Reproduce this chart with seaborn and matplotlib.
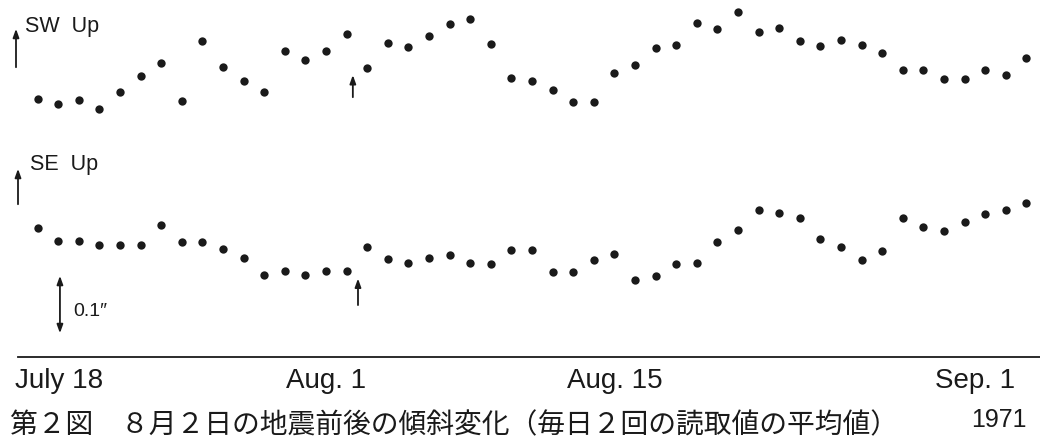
"""
Tilt change before and after the Aug. 2 earthquake (1971),
daily means of two readings, SW and SE components.
"""

import numpy as np
import pandas as pd
import seaborn as sns
import matplotlib.pyplot as plt
from matplotlib.transforms import ScaledTranslation

# daily tilt, arcsec (relative), July 18 .. Sep 4 1971
sw_up = [0.018, 0.010, 0.016, 0.002, 0.029, 0.054, 0.075, 0.015, 0.109, 0.068,
         0.046, 0.028, 0.093, 0.079, 0.093, 0.120, 0.066, 0.107, 0.100, 0.118,
         0.137, 0.145, 0.105, 0.051, 0.046, 0.032, 0.012, 0.012, 0.059, 0.072,
         0.099, 0.104, 0.138, 0.128, 0.156, 0.124, 0.130, 0.110, 0.102, 0.111,
         0.104, 0.091, 0.064, 0.064, 0.050, 0.049, 0.063, 0.055, 0.083]
se_up = [0.091, 0.070, 0.070, 0.063, 0.064, 0.064, 0.096, 0.069, 0.069, 0.057,
         0.043, 0.016, 0.022, 0.016, 0.023, 0.023, 0.061, 0.042, 0.035, 0.043,
         0.048, 0.035, 0.033, 0.056, 0.056, 0.021, 0.021, 0.040, 0.050, 0.008,
         0.014, 0.033, 0.035, 0.068, 0.087, 0.120, 0.114, 0.106, 0.073, 0.060,
         0.040, 0.054, 0.107, 0.092, 0.086, 0.100, 0.113, 0.120, 0.130]
day = np.arange(len(sw_up))  # days since July 18

tick_days = [0, 14, 28, 45]
tick_labels = ['July 18', 'Aug. 1', 'Aug. 15', 'Sep. 1']
quake_day = 15.3  # Aug. 2

# vertical offsets so the two traces stack like the original figure
offsets = {'SW': 0.392, 'SE': 0.114}

df = pd.concat([
    pd.DataFrame({'day': day, 'tilt': sw_up, 'comp': 'SW'}),
    pd.DataFrame({'day': day, 'tilt': se_up, 'comp': 'SE'}),
])
df['y'] = df['tilt'] + df['comp'].map(offsets)

sns.set_style('white')
plt.rcParams['font.family'] = ['Liberation Sans', 'DejaVu Sans']
ink = '#1a1a1a'

fig = plt.figure(figsize=(10.4, 4.41), dpi=100)
ax = fig.add_axes([18 / 1040, 84 / 441, 1022 / 1040, 357 / 441])

sns.scatterplot(data=df, x='day', y='y', color=ink, s=36, linewidth=0,
                legend=False, ax=ax)

ax.set_xlim(-0.956, 48.66)
ax.set_ylim(0, 357 / 630)
ax.set_xlabel('')
ax.set_ylabel('')
ax.set_yticks([])
ax.set_xticks(tick_days, tick_labels)
ax.tick_params(axis='x', direction='in', length=7, width=1.2, color=ink,
               labelsize=20, labelcolor=ink, pad=8)
for s in ['top', 'right', 'left']:
    ax.spines[s].set_visible(False)
ax.spines['bottom'].set_color(ink)
ax.spines['bottom'].set_linewidth(1.3)

# nudge first and last date labels like the hand lettering
labs = ax.get_xticklabels()
labs[0].set_transform(labs[0].get_transform() + ScaledTranslation(0.21, 0, fig.dpi_scale_trans))
labs[3].set_transform(labs[3].get_transform() + ScaledTranslation(0.10, 0, fig.dpi_scale_trans))

arrow = dict(arrowstyle='-|>,head_length=0.5,head_width=0.18', color=ink, lw=1.3)

# earthquake markers
ax.annotate('', xy=(quake_day, 0.452), xytext=(quake_day, 0.408), arrowprops=arrow)
ax.annotate('', xy=(quake_day + 0.25, 0.129), xytext=(quake_day + 0.25, 0.078),
            arrowprops=arrow)

# scale bar 0.1"
ax.annotate('', xy=(1.08, 0.0333), xytext=(1.08, 0.1333),
            arrowprops=dict(arrowstyle='<|-|>,head_length=0.5,head_width=0.18',
                            color=ink, lw=1.3))
ax.text(1.75, 0.073, '0.1\u2033', fontsize=14, color=ink, va='center', ha='left')

# component labels with up arrows
fig.text(25 / 1040, 1 - 32 / 441, 'SW  Up', fontsize=15.5, color=ink, va='baseline')
fig.text(30 / 1040, 1 - 170 / 441, 'SE  Up', fontsize=15.5, color=ink, va='baseline')
ax.annotate('', xy=(16, 441 - 26), xytext=(16, 441 - 70), xycoords='figure pixels',
            textcoords='figure pixels', arrowprops=arrow, annotation_clip=False)
ax.annotate('', xy=(18, 441 - 166), xytext=(18, 441 - 207), xycoords='figure pixels',
            textcoords='figure pixels', arrowprops=arrow, annotation_clip=False)

fig.text(1027 / 1040, 1 - 427 / 441, '1971', fontsize=18, color=ink,
         ha='right', va='baseline')
fig.text(10 / 1040, 8 / 441, '第２図　８月２日の地震前後の傾斜変化（毎日２回の読取値の平均値）',
         fontsize=20, color=ink, va='baseline', family=['Noto Sans CJK JP', 'DejaVu Sans'])

fig.savefig('out.png', dpi=100, facecolor='white')
